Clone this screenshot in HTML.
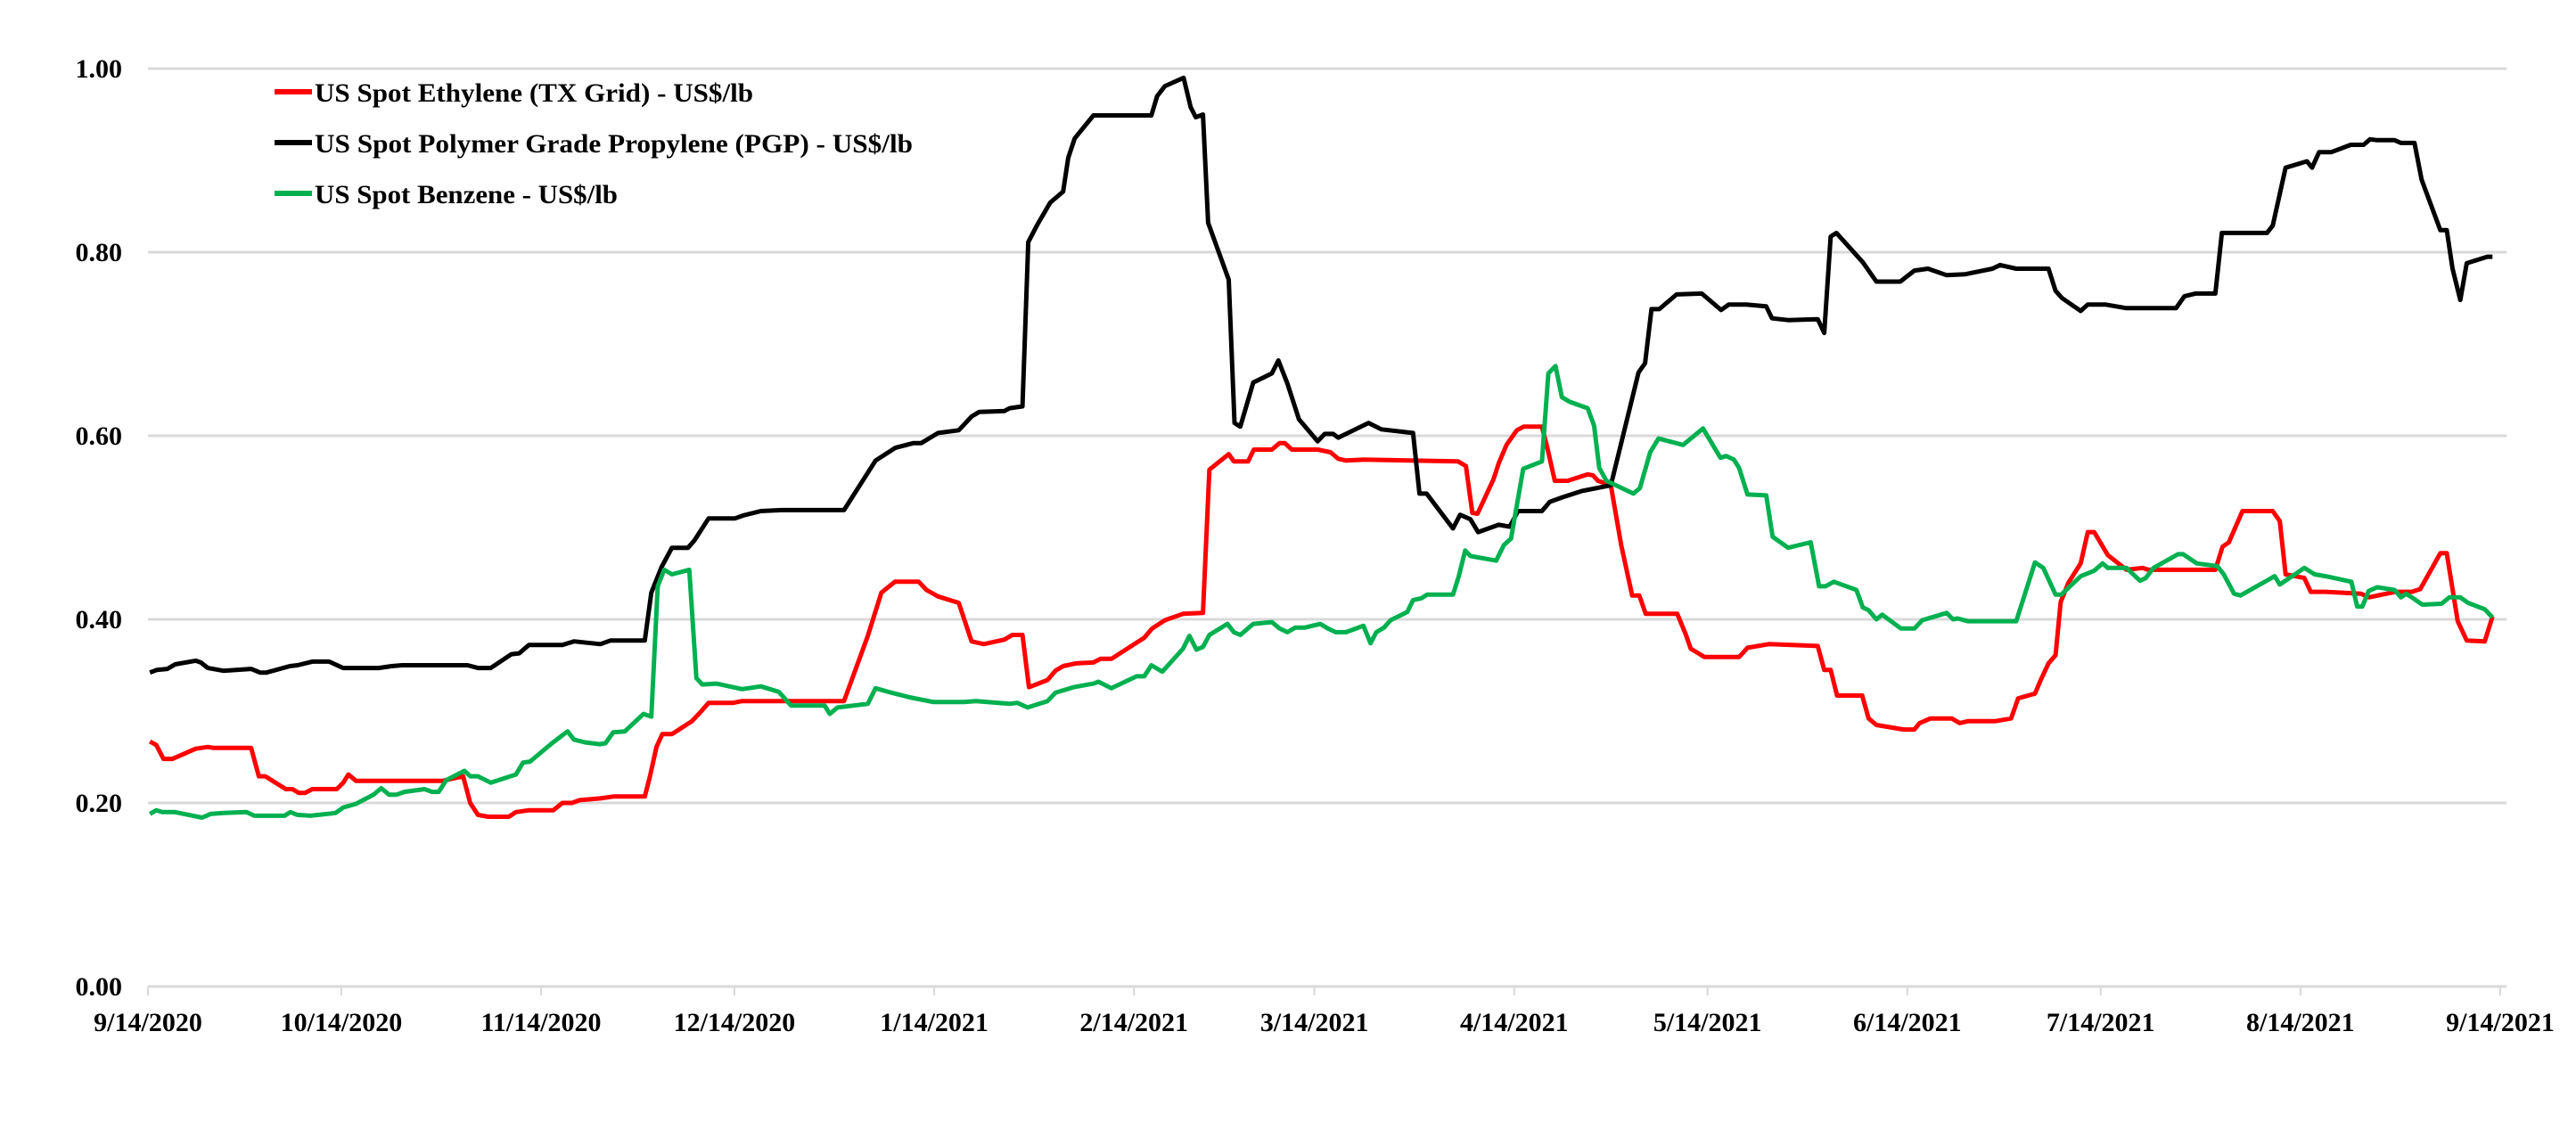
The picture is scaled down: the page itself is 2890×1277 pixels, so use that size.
<!DOCTYPE html>
<html><head><meta charset="utf-8"><style>
html,body{margin:0;padding:0;background:#fff}
svg{display:block}
text{font-family:"Liberation Serif",serif;font-weight:bold;fill:#000}
</style></head><body>
<svg id="chart" width="2890" height="1277" viewBox="0 0 2890 1277" xmlns="http://www.w3.org/2000/svg">
<g id="grid"></g>
<g id="yaxis"></g>
<g id="xaxis"></g>
<g id="series"></g>
<g id="legend">
 <g>
  <line x1="308" y1="103" x2="350" y2="103" stroke="#ff0000" stroke-width="6"/>
  <text x="353" y="114" font-size="30" textLength="492" lengthAdjust="spacingAndGlyphs">US Spot Ethylene (TX Grid) - US$/lb</text>
 </g>
 <g>
  <line x1="308" y1="160" x2="350" y2="160" stroke="#000" stroke-width="6"/>
  <text x="353" y="171" font-size="30" textLength="671" lengthAdjust="spacingAndGlyphs">US Spot Polymer Grade Propylene (PGP) - US$/lb</text>
 </g>
 <g>
  <line x1="308" y1="217" x2="350" y2="217" stroke="#00b050" stroke-width="6"/>
  <text x="353" y="228" font-size="30" textLength="340" lengthAdjust="spacingAndGlyphs">US Spot Benzene - US$/lb</text>
 </g>
</g>
</svg>
<script>
const yTicks = [0, 0.2, 0.4, 0.6, 0.8, 1.0];
const yTickLabels = ["0.00","0.20","0.40","0.60","0.80","1.00"];
const xTickDays = [0, 30, 61, 91, 122, 153, 181, 212, 242, 273, 303, 334, 365];
const xTickLabels = ["9/14/2020","10/14/2020","11/14/2020","12/14/2020","1/14/2021","2/14/2021","3/14/2021","4/14/2021","5/14/2021","6/14/2021","7/14/2021","8/14/2021","9/14/2021"];

const ethyDays = [0.3,1.3,2.4,3.8,7.4,9.3,10.1,16.0,17.2,18.2,21.4,22.4,23.4,24.4,25.5,29.3,30.3,31.1,32.3,45.7,48.9,50.0,51.2,52.8,56.0,57.1,59.1,62.9,64.3,65.8,67.0,70.2,72.2,77.1,77.9,78.9,79.8,81.3,84.4,85.6,87.0,90.8,92.2,108.0,111.7,113.8,115.9,119.6,120.8,122.6,125.8,127.8,129.7,132.9,134.1,135.7,136.7,139.6,140.8,142.0,144.0,146.7,147.8,149.5,154.6,155.8,157.8,160.6,163.7,164.7,167.7,168.5,170.7,171.6,174.4,175.6,176.4,177.5,181.5,183.5,184.7,185.9,188.6,203.3,204.5,205.5,206.3,208.8,209.6,210.8,212.4,213.5,216.3,217.1,218.3,220.3,223.4,224.2,225.0,227.0,228.6,230.3,231.4,232.4,237.3,238.6,239.4,241.5,246.9,248.2,251.5,259.1,260.1,261.1,262.1,266.0,267.0,268.2,272.4,274.1,274.9,276.6,279.9,281.1,282.4,286.6,289.1,290.2,292.8,293.7,294.9,296.0,296.8,298.0,299.9,301.0,302.0,304.1,307.0,309.5,310.4,320.8,321.9,322.9,325.0,329.7,330.8,331.7,334.6,335.6,337.9,343.4,344.6,348.8,351.3,352.6,355.7,356.7,358.4,359.8,362.6,363.8];
const ethyVals = [0.267,0.263,0.248,0.248,0.259,0.261,0.260,0.260,0.229,0.229,0.215,0.215,0.211,0.211,0.215,0.215,0.222,0.231,0.224,0.224,0.229,0.200,0.187,0.185,0.185,0.190,0.192,0.192,0.200,0.200,0.203,0.205,0.207,0.207,0.229,0.261,0.275,0.275,0.289,0.298,0.309,0.309,0.311,0.311,0.382,0.429,0.441,0.441,0.432,0.425,0.418,0.376,0.373,0.378,0.383,0.383,0.326,0.334,0.344,0.349,0.352,0.353,0.357,0.357,0.380,0.390,0.399,0.406,0.407,0.563,0.580,0.572,0.572,0.585,0.585,0.592,0.592,0.585,0.585,0.582,0.575,0.573,0.574,0.572,0.567,0.516,0.515,0.553,0.570,0.590,0.606,0.610,0.610,0.588,0.551,0.551,0.558,0.557,0.551,0.546,0.481,0.426,0.426,0.406,0.406,0.384,0.368,0.359,0.359,0.369,0.373,0.371,0.345,0.345,0.317,0.317,0.292,0.285,0.280,0.280,0.287,0.292,0.292,0.287,0.289,0.289,0.292,0.314,0.319,0.334,0.352,0.361,0.419,0.440,0.461,0.495,0.495,0.470,0.454,0.456,0.454,0.454,0.479,0.484,0.518,0.518,0.507,0.449,0.445,0.430,0.430,0.428,0.424,0.430,0.430,0.433,0.472,0.472,0.398,0.377,0.376,0.403];

const propDays = [0.3,1.4,3.0,4.2,7.4,8.2,9.3,11.7,16.0,17.4,18.4,22.0,23.2,25.5,28.1,30.3,35.8,37.8,39.4,49.6,51.2,53.2,56.4,57.6,59.1,64.3,66.1,70.2,71.8,77.1,78.1,79.7,81.3,83.8,84.8,87.0,91.1,92.3,95.1,98.3,108.0,112.9,116.0,118.8,120.0,122.6,125.8,127.8,129.0,132.9,133.7,135.7,136.6,138.0,140.0,142.0,142.8,143.8,146.7,155.7,156.6,157.8,160.7,161.8,162.6,163.7,164.5,167.7,168.6,169.5,171.5,174.4,175.4,176.8,178.6,181.5,182.6,183.9,184.7,189.4,191.4,196.3,197.3,198.4,202.5,203.6,205.2,206.4,209.6,211.3,212.6,216.3,217.5,219.5,222.6,227.0,231.3,232.3,233.3,234.5,237.2,241.1,244.1,245.3,248.0,251.1,252.0,254.5,259.1,260.1,261.1,262.0,266.1,268.2,271.9,274.1,276.2,279.1,282.0,286.2,287.4,289.9,294.9,296.0,297.0,299.9,301.0,303.7,307.0,314.7,316.0,317.7,320.8,321.8,328.8,329.7,331.7,335.0,335.8,336.9,338.8,341.8,343.8,344.8,345.9,348.6,349.6,351.7,352.8,355.7,356.7,357.6,358.8,359.8,363.0,363.8];
const propVals = [0.342,0.345,0.346,0.351,0.355,0.353,0.347,0.344,0.346,0.342,0.342,0.349,0.350,0.354,0.354,0.347,0.347,0.349,0.350,0.350,0.347,0.347,0.362,0.363,0.372,0.372,0.376,0.373,0.377,0.377,0.429,0.457,0.478,0.478,0.486,0.510,0.510,0.513,0.518,0.519,0.519,0.573,0.587,0.592,0.592,0.603,0.606,0.621,0.626,0.627,0.630,0.632,0.811,0.830,0.854,0.866,0.903,0.924,0.949,0.949,0.970,0.981,0.990,0.958,0.947,0.950,0.832,0.770,0.614,0.610,0.658,0.668,0.682,0.657,0.618,0.594,0.602,0.602,0.598,0.614,0.607,0.603,0.537,0.537,0.499,0.514,0.509,0.495,0.503,0.501,0.518,0.518,0.528,0.533,0.540,0.546,0.669,0.679,0.738,0.738,0.754,0.755,0.737,0.743,0.743,0.741,0.728,0.726,0.727,0.712,0.817,0.821,0.789,0.768,0.768,0.780,0.782,0.775,0.776,0.782,0.786,0.782,0.782,0.758,0.750,0.736,0.743,0.743,0.739,0.739,0.752,0.755,0.755,0.821,0.821,0.829,0.892,0.899,0.892,0.909,0.909,0.917,0.917,0.923,0.922,0.922,0.919,0.919,0.879,0.824,0.824,0.782,0.748,0.788,0.795,0.795];

const benzDays = [0.3,1.3,2.2,4.2,8.4,9.7,11.7,15.3,16.5,21.2,22.1,23.2,25.2,29.1,30.3,32.3,35.0,36.2,37.4,38.6,39.8,42.9,44.1,45.1,46.3,49.1,50.0,51.2,53.2,57.1,58.2,59.3,62.7,65.1,66.1,67.8,70.1,71.0,72.2,74.0,76.9,78.1,79.1,80.1,81.3,84.0,85.1,86.0,88.2,92.2,95.1,97.9,99.8,105.0,105.8,107.0,111.7,112.9,114.9,118.2,121.8,126.6,128.5,133.7,134.9,136.5,139.6,140.8,143.6,146.7,147.5,149.5,153.4,154.6,155.7,157.4,160.6,161.6,162.7,163.7,164.7,167.5,168.5,169.5,171.5,174.4,175.6,176.8,178.0,179.5,181.9,183.1,184.3,185.9,188.6,189.7,190.6,191.8,192.8,195.4,196.3,197.6,198.5,202.5,203.4,204.4,205.2,209.2,210.4,211.5,213.4,216.3,217.3,218.4,219.4,220.6,223.4,224.4,225.2,226.3,230.5,231.5,233.1,234.4,238.2,241.3,244.0,244.9,246.1,246.9,248.2,251.1,252.1,254.5,258.0,259.3,260.3,261.6,265.1,266.1,267.0,268.2,269.1,272.0,274.1,275.3,279.1,280.1,280.8,282.4,289.9,292.8,294.1,296.0,296.9,299.9,302.0,303.3,304.1,307.0,309.1,310.0,311.2,315.0,315.8,317.9,321.1,322.1,323.7,324.7,330.0,330.8,334.6,336.2,337.9,341.9,342.8,343.6,344.6,345.9,348.6,349.6,350.4,351.7,352.9,355.9,357.1,358.8,360.0,362.6,363.8];
const benzVals = [0.188,0.192,0.190,0.190,0.184,0.188,0.189,0.190,0.186,0.186,0.190,0.187,0.186,0.189,0.195,0.199,0.209,0.216,0.209,0.209,0.212,0.215,0.212,0.212,0.225,0.235,0.229,0.229,0.222,0.231,0.244,0.245,0.265,0.278,0.269,0.266,0.264,0.265,0.277,0.278,0.297,0.294,0.436,0.454,0.449,0.454,0.336,0.329,0.330,0.324,0.327,0.321,0.306,0.306,0.297,0.304,0.308,0.325,0.321,0.315,0.310,0.310,0.311,0.308,0.309,0.304,0.311,0.320,0.326,0.330,0.332,0.325,0.338,0.338,0.350,0.343,0.368,0.382,0.367,0.370,0.383,0.395,0.386,0.383,0.395,0.397,0.390,0.386,0.391,0.391,0.395,0.390,0.386,0.386,0.393,0.374,0.386,0.391,0.399,0.408,0.421,0.423,0.427,0.427,0.447,0.475,0.469,0.464,0.481,0.488,0.564,0.572,0.668,0.676,0.642,0.637,0.630,0.611,0.565,0.551,0.537,0.543,0.582,0.597,0.590,0.608,0.576,0.578,0.574,0.565,0.536,0.535,0.490,0.478,0.484,0.436,0.436,0.441,0.432,0.413,0.410,0.400,0.405,0.390,0.390,0.399,0.407,0.400,0.401,0.398,0.398,0.462,0.456,0.427,0.427,0.447,0.453,0.461,0.456,0.456,0.442,0.445,0.456,0.471,0.471,0.461,0.458,0.449,0.428,0.426,0.447,0.438,0.456,0.449,0.447,0.441,0.414,0.414,0.431,0.435,0.432,0.424,0.428,0.422,0.416,0.417,0.424,0.424,0.418,0.411,0.402];

const NS = "http://www.w3.org/2000/svg";
const X0 = 166, X1 = 2805, Y0 = 1107, Y1 = 77;
function xScale(d){ return X0 + (d/365)*(X1-X0); }
function yScale(v){ return Y0 - v*(Y0-Y1); }

const grid = document.getElementById('grid');
const yaxis = document.getElementById('yaxis');
yTicks.forEach((t,i)=>{
  const ln = document.createElementNS(NS,'line');
  
  
  ln.setAttribute('x1',X0); ln.setAttribute('x2',2812);
  ln.setAttribute('y1',yScale(t)); ln.setAttribute('y2',yScale(t));
  ln.setAttribute('stroke','#d9d9d9'); ln.setAttribute('stroke-width','3');
  grid.appendChild(ln);
  const tx = document.createElementNS(NS,'text');
  
  
  tx.setAttribute('x',137); tx.setAttribute('y',yScale(t)+10);
  tx.setAttribute('text-anchor','end'); tx.setAttribute('font-size','30');
  tx.textContent = yTickLabels[i];
  yaxis.appendChild(tx);
});
const xaxis = document.getElementById('xaxis');
xTickDays.forEach((d,i)=>{
  const tk = document.createElementNS(NS,'line');
  
  
  tk.setAttribute('x1',xScale(d)); tk.setAttribute('x2',xScale(d));
  tk.setAttribute('y1',Y0); tk.setAttribute('y2',Y0+10);
  tk.setAttribute('stroke','#d9d9d9'); tk.setAttribute('stroke-width','2');
  xaxis.appendChild(tk);
  const tx = document.createElementNS(NS,'text');
  
  
  tx.setAttribute('x',xScale(d)); tx.setAttribute('y',1157);
  tx.setAttribute('text-anchor','middle'); tx.setAttribute('font-size','30');
  tx.textContent = xTickLabels[i];
  xaxis.appendChild(tx);
});
const series = document.getElementById('series');
function drawLine(days, vals, color, name){
  const p = document.createElementNS(NS,'polyline');
  
  
  p.setAttribute('points', days.map((d,i)=>xScale(d).toFixed(1)+','+yScale(vals[i]).toFixed(1)).join(' '));
  p.setAttribute('fill','none'); p.setAttribute('stroke',color);
  p.setAttribute('stroke-width','5'); p.setAttribute('stroke-linejoin','round');
  series.appendChild(p);
}
drawLine(ethyDays, ethyVals, '#ff0000', 'ethylene-line');
drawLine(propDays, propVals, '#000000', 'propylene-line');
drawLine(benzDays, benzVals, '#00b050', 'benzene-line');
</script>
</body></html>
